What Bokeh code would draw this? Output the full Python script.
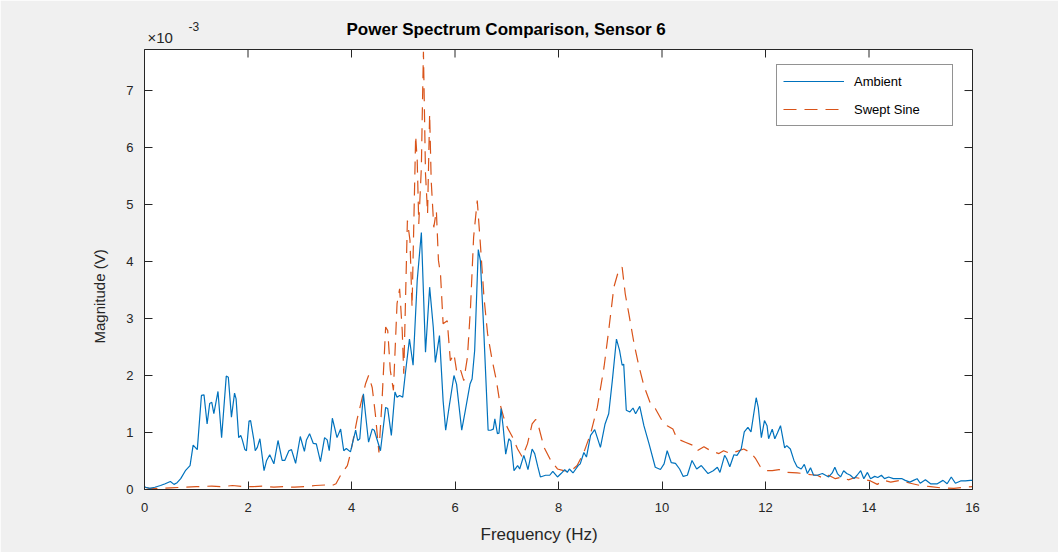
from bokeh.plotting import figure
from bokeh.models import (Range1d, FixedTicker, Legend, LegendItem, ColumnDataSource, Title)
from bokeh.embed import file_html
from bokeh.resources import INLINE

# ---- data (magnitudes in units of 1e-3 V, as on the axis) ----
ambient_freq = [
    0.00, 0.02, 0.10, 0.20, 0.31, 0.40, 0.50, 0.57, 0.63, 0.70, 0.79, 0.88, 0.94, 1.02,
    1.10, 1.15, 1.21, 1.26, 1.30, 1.34, 1.42, 1.49, 1.58, 1.62, 1.68, 1.74, 1.77, 1.82,
    1.86, 1.89, 1.94, 1.97, 2.02, 2.05, 2.11, 2.14, 2.18, 2.23, 2.31, 2.36, 2.42, 2.50,
    2.58, 2.66, 2.71, 2.79, 2.84, 2.92, 3.01, 3.09, 3.13, 3.19, 3.26, 3.32, 3.40, 3.48,
    3.53, 3.57, 3.63, 3.72, 3.79, 3.85, 3.90, 3.98, 4.08, 4.12, 4.16, 4.23, 4.27, 4.33,
    4.40, 4.44, 4.50, 4.56, 4.66, 4.70, 4.77, 4.84, 4.88, 4.93, 4.99, 5.04, 5.12, 5.19,
    5.27, 5.35, 5.43, 5.51, 5.58, 5.62, 5.70, 5.77, 5.82, 5.89, 5.98, 6.03, 6.13, 6.20,
    6.29, 6.33, 6.38, 6.45, 6.49, 6.55, 6.64, 6.69, 6.74, 6.77, 6.82, 6.85, 6.89, 6.93,
    6.98, 7.04, 7.08, 7.14, 7.21, 7.25, 7.33, 7.37, 7.41, 7.49, 7.54, 7.60, 7.65, 7.75,
    7.83, 7.89, 7.98, 8.05, 8.12, 8.17, 8.21, 8.28, 8.38, 8.42, 8.49, 8.54, 8.62, 8.70,
    8.81, 8.90, 8.97, 9.04, 9.12, 9.18, 9.23, 9.26, 9.31, 9.38, 9.44, 9.49, 9.57, 9.65,
    9.75, 9.87, 9.97, 10.04, 10.10, 10.18, 10.26, 10.34, 10.41, 10.49, 10.58, 10.67, 10.76, 10.89,
    10.99, 11.07, 11.12, 11.21, 11.25, 11.31, 11.39, 11.45, 11.53, 11.59, 11.66, 11.72, 11.82, 11.86,
    11.92, 11.98, 12.03, 12.06, 12.13, 12.18, 12.23, 12.29, 12.37, 12.41, 12.48, 12.55, 12.61, 12.69,
    12.75, 12.81, 12.87, 12.93, 13.00, 13.10, 13.16, 13.22, 13.29, 13.34, 13.39, 13.45, 13.51, 13.57,
    13.64, 13.71, 13.77, 13.84, 13.90, 13.97, 14.03, 14.11, 14.17, 14.24, 14.30, 14.38, 14.47, 14.54,
    14.64, 14.70, 14.79, 14.86, 14.93, 14.99, 15.09, 15.19, 15.32, 15.43, 15.51, 15.59, 15.67, 15.77,
    15.86, 15.96, 16.00,
]
ambient_mag = [
    0.05, 0.04, 0.02, 0.04, 0.07, 0.10, 0.14, 0.09, 0.12, 0.19, 0.33, 0.42, 0.78, 0.70,
    1.65, 1.66, 1.15, 1.51, 1.53, 1.33, 1.72, 0.91, 1.99, 1.97, 1.27, 1.69, 1.59, 0.91,
    0.95, 0.87, 0.70, 0.68, 1.20, 1.21, 0.89, 0.68, 0.74, 0.89, 0.33, 0.51, 0.61, 0.45,
    0.86, 0.51, 0.51, 0.68, 0.70, 0.46, 0.93, 0.67, 0.87, 0.98, 0.81, 0.80, 0.49, 0.91,
    0.87, 0.68, 1.25, 0.91, 1.06, 0.68, 0.72, 0.66, 1.04, 0.86, 0.89, 1.68, 1.33, 0.83,
    1.06, 1.04, 0.86, 0.68, 1.44, 1.42, 0.95, 1.71, 1.62, 1.65, 1.62, 2.03, 2.64, 2.18,
    3.67, 4.51, 2.41, 3.55, 2.85, 2.23, 2.70, 1.56, 1.04, 1.47, 2.00, 1.85, 1.04, 1.39,
    1.85, 1.94, 2.44, 4.21, 4.02, 2.91, 1.04, 1.04, 1.06, 1.24, 0.98, 0.99, 1.42, 1.10,
    0.62, 0.89, 0.85, 0.33, 0.42, 0.36, 0.60, 0.48, 0.35, 0.71, 0.63, 0.40, 0.22, 0.25,
    0.25, 0.32, 0.22, 0.28, 0.35, 0.30, 0.36, 0.29, 0.42, 0.45, 0.65, 0.57, 0.95, 1.05,
    0.74, 1.15, 1.33, 1.91, 2.64, 2.44, 2.18, 2.20, 1.39, 1.36, 1.43, 1.33, 1.46, 1.12,
    0.80, 0.39, 0.35, 0.45, 0.68, 0.47, 0.46, 0.36, 0.23, 0.25, 0.51, 0.36, 0.42, 0.28,
    0.33, 0.39, 0.30, 0.60, 0.54, 0.40, 0.61, 0.60, 0.71, 1.01, 1.09, 1.01, 1.61, 1.44,
    0.91, 1.21, 1.12, 0.89, 1.06, 0.89, 0.99, 1.12, 0.73, 0.77, 0.71, 0.51, 0.40, 0.36,
    0.44, 0.28, 0.38, 0.25, 0.25, 0.28, 0.25, 0.22, 0.29, 0.39, 0.28, 0.22, 0.33, 0.28,
    0.25, 0.19, 0.25, 0.33, 0.19, 0.30, 0.19, 0.23, 0.21, 0.25, 0.19, 0.22, 0.19, 0.19,
    0.19, 0.16, 0.13, 0.16, 0.19, 0.11, 0.17, 0.10, 0.10, 0.16, 0.10, 0.22, 0.11, 0.15,
    0.15, 0.16, 0.16,
]

swept_freq = [
    0.00, 0.10, 0.30, 0.50, 0.80, 1.00, 1.30, 1.50, 1.70, 1.90, 2.10, 2.30, 2.50, 2.70,
    2.90, 3.10, 3.30, 3.50, 3.60, 3.70, 3.79, 3.92, 3.98, 4.11, 4.27, 4.33, 4.40, 4.46,
    4.53, 4.59, 4.66, 4.70, 4.75, 4.81, 4.88, 4.93, 4.98, 5.01, 5.08, 5.13, 5.17, 5.24,
    5.27, 5.30, 5.35, 5.37, 5.39, 5.43, 5.47, 5.51, 5.54, 5.59, 5.64, 5.68, 5.72, 5.77,
    5.85, 5.91, 5.98, 6.04, 6.11, 6.17, 6.24, 6.30, 6.36, 6.43, 6.46, 6.49, 6.56, 6.63,
    6.72, 6.80, 6.87, 6.94, 7.01, 7.11, 7.21, 7.30, 7.40, 7.49, 7.56, 7.62, 7.72, 7.85,
    7.98, 8.10, 8.23, 8.36, 8.49, 8.62, 8.75, 8.88, 8.97, 9.07, 9.17, 9.23, 9.29, 9.36,
    9.46, 9.55, 9.65, 9.78, 9.87, 10.00, 10.10, 10.21, 10.29, 10.45, 10.61, 10.68, 10.81, 10.94,
    11.10, 11.19, 11.32, 11.45, 11.58, 11.71, 11.81, 11.90, 12.00, 12.13, 12.26, 12.42, 12.61, 12.74,
    12.87, 13.00, 13.13, 13.22, 13.35, 13.48, 13.60, 13.73, 13.86, 14.03, 14.16, 14.29, 14.42, 14.61,
    14.80, 14.99, 15.19, 15.38, 15.64, 15.83, 16.00,
]
swept_mag = [
    0.04, 0.02, 0.02, 0.03, 0.04, 0.05, 0.06, 0.05, 0.07, 0.05, 0.05, 0.06, 0.04, 0.05,
    0.04, 0.05, 0.07, 0.08, 0.06, 0.10, 0.25, 0.42, 0.63, 1.24, 1.85, 2.00, 1.79, 1.33,
    0.65, 1.56, 2.85, 2.79, 2.09, 1.74, 3.26, 3.52, 2.79, 2.03, 4.72, 4.37, 3.20, 6.21,
    5.77, 4.66, 5.65, 6.71, 7.68, 5.54, 4.84, 6.59, 5.42, 4.60, 4.89, 4.02, 3.78, 2.91,
    2.96, 2.26, 2.38, 2.03, 2.09, 1.91, 2.32, 3.20, 4.43, 5.07, 4.69, 4.31, 3.37, 2.73,
    2.26, 1.91, 1.50, 1.27, 1.09, 0.92, 0.71, 0.57, 0.80, 1.15, 1.23, 1.09, 0.74, 0.51,
    0.36, 0.33, 0.32, 0.42, 0.65, 0.98, 1.44, 2.15, 2.79, 3.55, 3.87, 3.90, 3.43, 3.08,
    2.56, 2.18, 1.82, 1.50, 1.42, 1.21, 1.12, 1.06, 0.89, 0.83, 0.77, 0.68, 0.75, 0.68,
    0.63, 0.68, 0.63, 0.67, 0.71, 0.65, 0.54, 0.40, 0.33, 0.33, 0.35, 0.30, 0.29, 0.28,
    0.26, 0.25, 0.19, 0.25, 0.19, 0.22, 0.17, 0.21, 0.19, 0.15, 0.09, 0.16, 0.13, 0.16,
    0.11, 0.07, 0.05, 0.03, 0.02, 0.04, 0.05,
]

x_ticks = [0, 2, 4, 6, 8, 10, 12, 14, 16]
y_ticks = [0, 1, 2, 3, 4, 5, 6, 7]
title_text = "Power Spectrum Comparison, Sensor 6"
x_label = "Frequency (Hz)"
y_label = "Magnitude (V)"
exp_base = "\u00d710"
exp_power = "-3"
series_names = ["Ambient", "Swept Sine"]

AX = "#262626"
FONT = "Liberation Sans"
X_MAX, Y_MAX = 16, 7.72

p = figure(width=1058, height=552, output_backend="svg", toolbar_location=None,
           x_range=Range1d(0, X_MAX), y_range=Range1d(0, Y_MAX),
           min_border_left=144, min_border_right=86, min_border_top=49, min_border_bottom=63,
           background_fill_color="white", border_fill_color="#f0f0f0")
p.xgrid.grid_line_color = None
p.ygrid.grid_line_color = None
p.outline_line_color = AX

src_a = ColumnDataSource(dict(f=ambient_freq, m=ambient_mag))
src_s = ColumnDataSource(dict(f=swept_freq, m=swept_mag))
r_s = p.line("f", "m", source=src_s, line_color="#D95319", line_width=1.2, line_dash="13 8")
r_a = p.line("f", "m", source=src_a, line_color="#0072BD", line_width=1.2)

for ax, ticks in ((p.xaxis[0], x_ticks), (p.yaxis[0], y_ticks)):
    ax.ticker = FixedTicker(ticks=ticks)
    ax.major_tick_in = 8
    ax.major_tick_out = 0
    ax.minor_tick_line_color = None
    ax.axis_line_color = AX
    ax.major_tick_line_color = AX
    ax.major_label_text_color = AX
    ax.major_label_text_font = FONT
    ax.major_label_text_font_size = "13px"
p.xaxis[0].major_label_standoff = 13
p.yaxis[0].major_label_standoff = 11

# inward ticks on the top and right edges of the box (MATLAB "box on")
tick_dy = 8 * Y_MAX / 440.0
tick_dx = 8 * X_MAX / 828.0
p.segment(x0=x_ticks, x1=x_ticks, y0=[Y_MAX] * len(x_ticks), y1=[Y_MAX - tick_dy] * len(x_ticks),
          line_color=AX, line_width=1)
p.segment(x0=[X_MAX] * len(y_ticks), x1=[X_MAX - tick_dx] * len(y_ticks), y0=y_ticks, y1=y_ticks,
          line_color=AX, line_width=1)

legend = Legend(items=[LegendItem(label=series_names[0], renderers=[r_a]),
                       LegendItem(label=series_names[1], renderers=[r_s])],
                location=(632, 363), margin=0, padding=6, spacing=8,
                glyph_width=61, glyph_height=20, label_height=20, label_width=92,
                label_standoff=10, border_line_color=AX, border_line_width=1,
                background_fill_color="white", background_fill_alpha=1,
                label_text_font=FONT, label_text_font_size="13px", label_text_color="black")
p.add_layout(legend, "center")

# above panel: exponent base (innermost row), then title and exponent power overlapping it
p.add_layout(Title(text=exp_base, align="left", offset=3, standoff=8,
                   text_font=FONT, text_font_size="15px", text_font_style="normal",
                   text_color=AX), "above")
p.add_layout(Title(text=title_text, align="left", offset=202, standoff=-32,
                   text_font=FONT, text_font_size="17px", text_font_style="bold",
                   text_color="black"), "above")
p.add_layout(Title(text=exp_power, align="left", offset=44, standoff=-17,
                   text_font=FONT, text_font_size="12px", text_font_style="normal",
                   text_color=AX), "above")

p.add_layout(Title(text=x_label, align="left", offset=336, standoff=17,
                   text_font=FONT, text_font_size="17px", text_font_style="normal",
                   text_color=AX), "below")
p.add_layout(Title(text=y_label, align="left", offset=146, standoff=31,
                   text_font=FONT, text_font_size="15px", text_font_style="normal",
                   text_color=AX), "left")

open("out.html", "w").write(file_html(p, INLINE))
